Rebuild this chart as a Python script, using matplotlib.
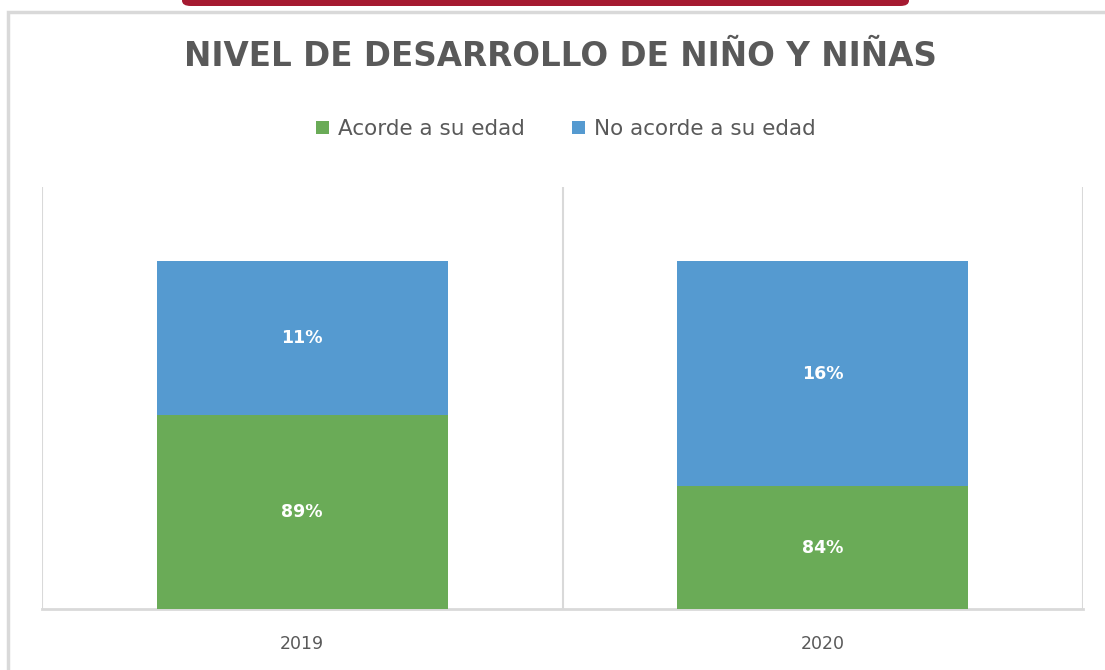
import matplotlib.pyplot as plt
from matplotlib.patches import Rectangle, FancyBboxPatch
import numpy as np

# datos (alturas de los segmentos, etiquetas tal como aparecen)
years = ['2019', '2020']
acorde = [0.557, 0.353]
no_acorde = [0.443, 0.647]
acorde_labels = ['89%', '84%']
no_acorde_labels = ['11%', '16%']
series_names = ['Acorde a su edad', 'No acorde a su edad']

green = '#6aab57'
blue = '#559ad0'
grey_txt = '#595959'
grid_c = '#d9d9d9'

W, H = 1105, 670
fig = plt.figure(figsize=(W / 100, H / 100), dpi=100)
fig.patch.set_facecolor('white')

# marco del grafico y barra roja superior
fig.patches.append(Rectangle((8 / W, -0.1), 1.2, (H - 12) / H + 0.1, transform=fig.transFigure,
                             fill=False, edgecolor=grid_c, lw=2.5))
fig.patches.append(FancyBboxPatch((182 / W, (H - 6) / H), (909 - 182) / W, 0.05,
                                  boxstyle='round,pad=0,rounding_size=0.008',
                                  transform=fig.transFigure, facecolor='#a51a31', edgecolor='none'))

ax = fig.add_axes([42 / W, (H - 609) / H, (1083 - 42) / W, (609 - 187) / H])
x = np.arange(len(years))
bw = 0.56
b1 = ax.bar(x, acorde, bw, color=green, label=series_names[0], zorder=3)
b2 = ax.bar(x, no_acorde, bw, bottom=acorde, color=blue, label=series_names[1], zorder=3)

for i in range(len(years)):
    ax.text(x[i], acorde[i] / 2, acorde_labels[i], ha='center', va='center',
            color='white', fontsize=12.5, fontweight='bold', zorder=4)
    ax.text(x[i], acorde[i] + no_acorde[i] / 2, no_acorde_labels[i], ha='center', va='center',
            color='white', fontsize=12.5, fontweight='bold', zorder=4)

ax.set_xlim(-0.5, 1.5)
ax.set_ylim(0, 1.213)
for xv in [-0.5, 0.5, 1.5]:
    ax.axvline(xv, color=grid_c, lw=1.5, zorder=1)
for s in ['top', 'left', 'right']:
    ax.spines[s].set_visible(False)
ax.spines['bottom'].set_color(grid_c)
ax.spines['bottom'].set_linewidth(2)
ax.set_yticks([])
ax.set_xticks(x)
ax.set_xticklabels(years, fontsize=12.5, color=grey_txt)
ax.tick_params(axis='x', length=0, pad=19)

fig.text(560 / W, 1 - 57 / H, 'NIVEL DE DESARROLLO DE NIÑO Y NIÑAS', ha='center', va='center',
         fontsize=23.5, fontweight='bold', color=grey_txt)

fig.legend(handles=[b1, b2], labels=series_names, loc='center', bbox_to_anchor=(566 / W, 1 - 129 / H),
           ncol=2, frameon=False, fontsize=15.5, handlelength=0.6, handleheight=0.6,
           handletextpad=0.4, columnspacing=2.2, labelcolor=grey_txt)

fig.savefig('out.png', dpi=100)
